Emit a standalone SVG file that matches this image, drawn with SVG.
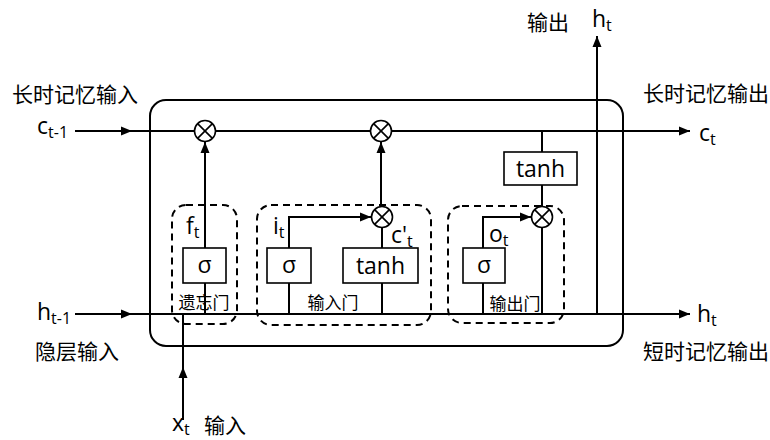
<svg xmlns="http://www.w3.org/2000/svg" width="770" height="440" viewBox="0 0 770 440">
<defs>
<marker id="ar" markerUnits="userSpaceOnUse" markerWidth="12" markerHeight="10" refX="11" refY="5" orient="auto">
<path d="M0,0.5 L11,5 L0,9.5 Z" fill="#000"/>
</marker>
<style>
.ln{fill:none;stroke:#000;stroke-width:2}
.box{fill:#fff;stroke:#000;stroke-width:1.6}
.dash{fill:none;stroke:#000;stroke-width:2;stroke-dasharray:7 5}
.op{fill:#fff;stroke:#000;stroke-width:1.6}
text{font-family:"Noto Sans CJK SC","Noto Sans",sans-serif;fill:#000}
.lab{font-size:21px}
.sym{font-family:"Open Sans","Noto Sans",sans-serif;font-size:23px}
.sub{font-size:16px}
.gl{font-size:17px}
.in{font-family:"Open Sans","Noto Sans",sans-serif;font-size:23px;text-anchor:middle}
</style>
</defs>
<g id="cell"><rect x="150" y="100" width="473" height="246" rx="16" class="ln"/></g>
<g id="gates">
<rect id="forget-gate" x="172" y="205" width="65" height="119" rx="14" class="dash"/>
<rect id="input-gate" x="257" y="205" width="174" height="120" rx="14" class="dash"/>
<rect id="output-gate" x="448" y="206" width="116" height="117" rx="14" class="dash"/>
</g>
<g id="connectors">
<path class="ln" d="M75 131 H690" marker-end="url(#ar)"/>
<path class="ln" d="M75 131 H132" marker-end="url(#ar)"/>
<path class="ln" d="M75 314 H690" marker-end="url(#ar)"/>
<path class="ln" d="M75 314 H132" marker-end="url(#ar)"/>
<path class="ln" d="M205 314 V142" marker-end="url(#ar)"/>
<path class="ln" d="M183 420 V314"/>
<path class="ln" d="M183 420 V367" marker-end="url(#ar)"/>
<path class="ln" d="M289 314 V217 H371" marker-end="url(#ar)"/>
<path class="ln" d="M382 314 V228"/>
<path class="ln" d="M381 206 V142" marker-end="url(#ar)"/>
<path class="ln" d="M542 131 V206"/>
<path class="ln" d="M542 228 V314"/>
<path class="ln" d="M483 314 V217 H531" marker-end="url(#ar)"/>
<path class="ln" d="M597 314 V36" marker-end="url(#ar)"/>
</g>
<g id="mul-f"><circle cx="205" cy="131" r="10.5" class="op"/><path class="ln" d="M197.6 123.6 L212.4 138.4 M212.4 123.6 L197.6 138.4" style="stroke-width:1.6"/></g>
<g id="mul-i"><circle cx="381" cy="131" r="10.5" class="op"/><path class="ln" d="M373.6 123.6 L388.4 138.4 M388.4 123.6 L373.6 138.4" style="stroke-width:1.6"/></g>
<g id="mul-ic"><circle cx="382" cy="217" r="10.5" class="op"/><path class="ln" d="M374.6 209.6 L389.4 224.4 M389.4 209.6 L374.6 224.4" style="stroke-width:1.6"/></g>
<g id="mul-o"><circle cx="542" cy="217" r="10.5" class="op"/><path class="ln" d="M534.6 209.6 L549.4 224.4 M549.4 209.6 L534.6 224.4" style="stroke-width:1.6"/></g>
<g id="sigma-f"><rect x="183" y="248" width="43" height="35" class="box"/><text x="204.5" y="273" class="in">σ</text></g>
<g id="sigma-i"><rect x="267" y="248" width="44" height="35" class="box"/><text x="289" y="273" class="in">σ</text></g>
<g id="tanh-i"><rect x="343" y="248" width="75" height="35" class="box"/><text x="380.5" y="274" class="in">tanh</text></g>
<g id="sigma-o"><rect x="463" y="248" width="42" height="35" class="box"/><text x="484" y="273" class="in">σ</text></g>
<g id="tanh-o"><rect x="504" y="152" width="73" height="33" class="box"/><text x="540.5" y="177" class="in">tanh</text></g>
<g id="labels">
<text x="12" y="102" class="lab">长时记忆输入</text>
<text x="37" y="134" class="sym">c<tspan class="sub" dy="4">t-1</tspan></text>
<text x="37" y="320" class="sym">h<tspan class="sub" dy="4">t-1</tspan></text>
<text x="35" y="359" class="lab">隐层输入</text>
<text x="172" y="431" class="sym">x<tspan class="sub" dy="4">t</tspan></text>
<text x="204" y="433" class="lab">输入</text>
<text x="527" y="30" class="lab">输出</text>
<text x="592" y="27" class="sym">h<tspan class="sub" dy="4">t</tspan></text>
<text x="643" y="101" class="lab">长时记忆输出</text>
<text x="699" y="141" class="sym">c<tspan class="sub" dy="4">t</tspan></text>
<text x="697" y="322" class="sym">h<tspan class="sub" dy="4">t</tspan></text>
<text x="643" y="359" class="lab">短时记忆输出</text>
<text x="186" y="234" class="sym">f<tspan class="sub" dy="4">t</tspan></text>
<text x="273" y="234" class="sym">i<tspan class="sub" dy="4">t</tspan></text>
<text x="391" y="243" class="sym">c'<tspan class="sub" dy="4">t</tspan></text>
<text x="489" y="242" class="sym">o<tspan class="sub" dy="4">t</tspan></text>
<text x="204" y="309" class="gl" text-anchor="middle">遗忘门</text>
<text x="333" y="309" class="gl" text-anchor="middle">输入门</text>
<text x="515" y="310" class="gl" text-anchor="middle">输出门</text>
</g>
</svg>
